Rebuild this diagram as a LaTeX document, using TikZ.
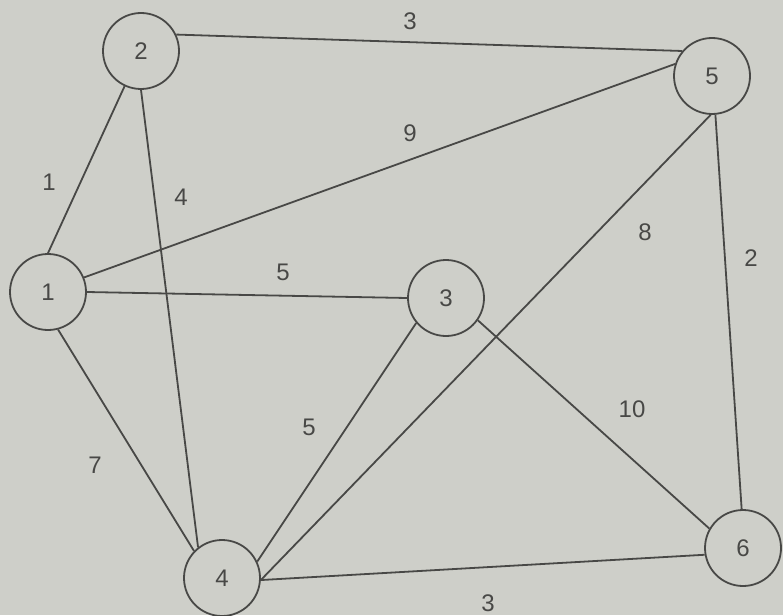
\documentclass[tikz,border=0pt]{standalone}
\usepackage{fontspec}
\setmainfont{Liberation Sans}
\definecolor{bg}{RGB}{206,207,201}
\definecolor{ink}{RGB}{72,72,70}
\begin{document}
\begin{tikzpicture}[x=1pt,y=-1pt,
  vertex/.style={circle,draw=ink,line width=1.8pt,minimum size=76pt,inner sep=0pt,text=ink,font=\fontsize{24}{24}\selectfont},
  edge/.style={draw=ink,line width=1.8pt},
  wt/.style={text=ink,font=\fontsize{24}{24}\selectfont,inner sep=0pt}]
\fill[bg] (0,0) rectangle (783,615);
\useasboundingbox (0,0) rectangle (783,615);
\node[vertex] (n2) at (141,51) {2};
\node[vertex] (n5) at (712,76) {5};
\node[vertex] (n1) at (48,292) {1};
\node[vertex] (n3) at (446,298) {3};
\node[vertex] (n4) at (222,578) {4};
\node[vertex] (n6) at (743,548) {6};
\draw[edge] (n2.25) -- (n5.140);
\draw[edge] (n1.90) -- (n2.-115);
\draw[edge] (n2.-90) -- (n4.128);
\draw[edge] (n1.22) -- (n5.162);
\draw[edge] (n1.0) -- (n3.180);
\draw[edge] (n1.-75) -- (n4.136);
\draw[edge] (n5.-92) -- (n4.-3);
\draw[edge] (n5.-85) -- (n6.92);
\draw[edge] (n3.-140) -- (n4.25);
\draw[edge] (n3.-35) -- (n6.150);
\draw[edge] (n4.-3) -- (n6.190);
\node[wt] (w25) at (410,21) {3};
\node[wt] (w15) at (410,133) {9};
\node[wt] (w54) at (645,232) {8};
\node[wt] (w56) at (751,258) {2};
\node[wt] (w12) at (49,182) {1};
\node[wt] (w24) at (181,197) {4};
\node[wt] (w13) at (283,272) {5};
\node[wt] (w34) at (309,427) {5};
\node[wt] (w36) at (632,409) {10};
\node[wt] (w14) at (95,465) {7};
\node[wt] (w46) at (488,603) {3};
\end{tikzpicture}
\end{document}
